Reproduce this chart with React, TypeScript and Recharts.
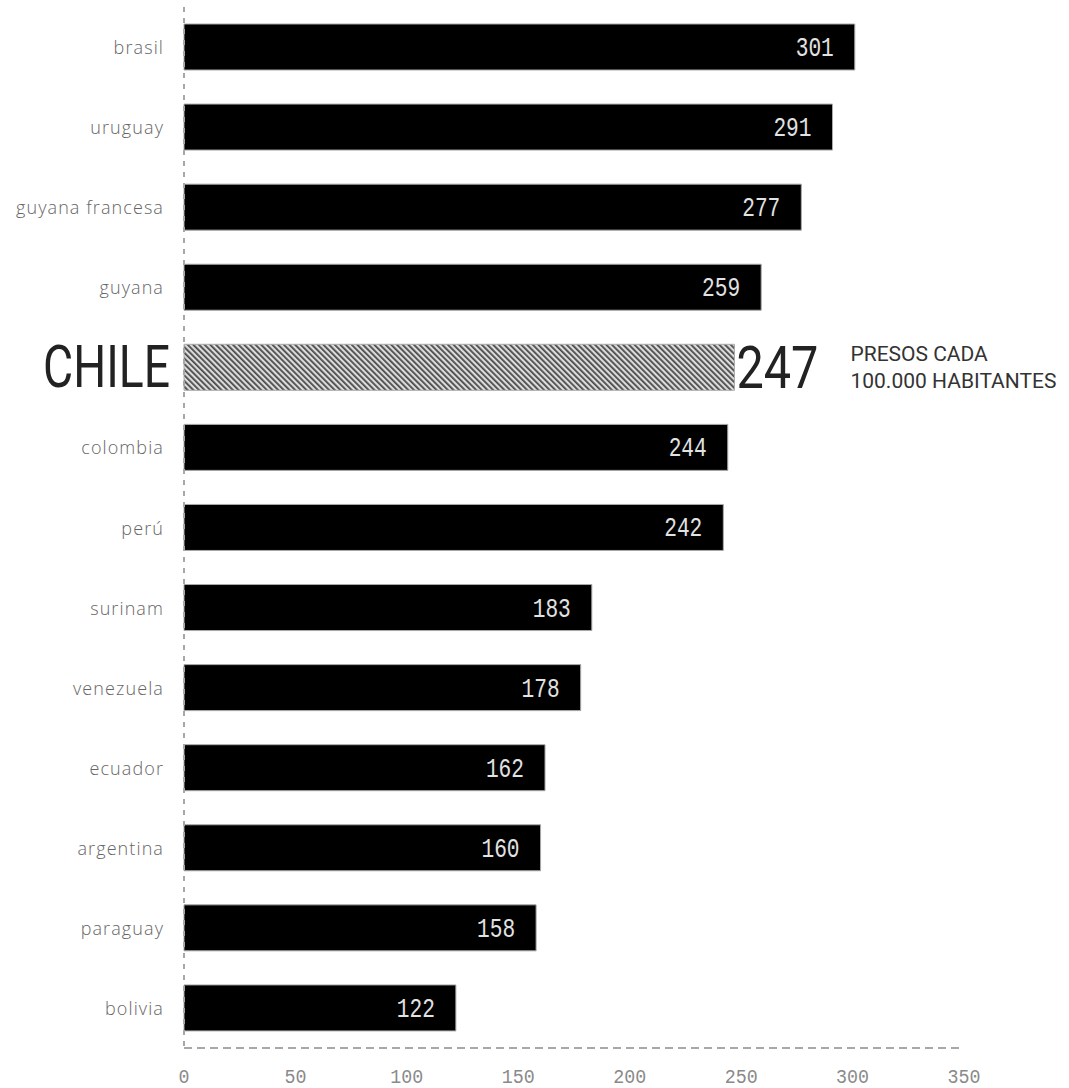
import React from "react";
import { Bar, BarChart, Cell, LabelList, XAxis, YAxis } from "recharts";

const countries = [
  "brasil",
  "uruguay",
  "guyana francesa",
  "guyana",
  "CHILE",
  "colombia",
  "perú",
  "surinam",
  "venezuela",
  "ecuador",
  "argentina",
  "paraguay",
  "bolivia",
];
const prisoners = [301, 291, 277, 259, 247, 244, 242, 183, 178, 162, 160, 158, 122];
const xTicks = [0, 50, 100, 150, 200, 250, 300, 350];
const highlight = "CHILE";
const unitLines = ["PRESOS CADA", "100.000 HABITANTES"];

const data = countries.map((name, i) => ({ name, value: prisoners[i] }));

const mono = "'Liberation Mono', 'DejaVu Sans Mono', monospace";

function CountryTick(props: any) {
  const { x, y, payload } = props;
  if (payload.value === highlight) {
    return (
      <text
        x={x + 7}
        y={y + 20}
        textAnchor="end"
        fontFamily="Roboto"
        fontSize={59}
        fill="#222"
        textLength={127}
        lengthAdjust="spacingAndGlyphs"
      >
        {payload.value}
      </text>
    );
  }
  return (
    <text
      x={x + 1}
      y={y}
      textAnchor="end"
      dominantBaseline="central"
      fontFamily="'Open Sans'"
      fontWeight={300}
      fontSize={18}
      letterSpacing={1.1}
      fill="#666"
    >
      {payload.value}
    </text>
  );
}

function NumberTick(props: any) {
  const { x, y, payload } = props;
  const s = String(payload.value);
  return (
    <text
      x={x}
      y={y + 13}
      textAnchor="middle"
      fontFamily={mono}
      fontSize={20}
      fill="#8a8a8a"
      textLength={s.length * 11}
      lengthAdjust="spacingAndGlyphs"
    >
      {s}
    </text>
  );
}

function ValueLabel(props: any) {
  const { x, y, width, height, value, index } = props;
  const cy = y + height / 2;
  const s = String(value);
  if (countries[index] === highlight) {
    return (
      <g>
        <text
          x={x + width + 2}
          y={cy + 21}
          fontFamily="Roboto"
          fontSize={60}
          fill="#222"
          textLength={82}
          lengthAdjust="spacingAndGlyphs"
        >
          {s}
        </text>
        <text x={x + width + 116} y={cy - 13} dominantBaseline="central" fontFamily="Roboto" fontSize={21} fill="#333">
          {unitLines[0]}
        </text>
        <text x={x + width + 116} y={cy + 14} dominantBaseline="central" fontFamily="Roboto" fontSize={21} fill="#333">
          {unitLines[1]}
        </text>
      </g>
    );
  }
  return (
    <text
      x={x + width - 21}
      y={cy + 9}
      textAnchor="end"
      fontFamily={mono}
      fontSize={27}
      fill="#e2e2e2"
      textLength={s.length * 12.7}
      lengthAdjust="spacingAndGlyphs"
    >
      {s}
    </text>
  );
}

export default function App() {
  return (
    <div style={{ position: "absolute", left: 0, top: 0 }}>
      <BarChart
        width={1069}
        height={1088}
        data={data}
        layout="vertical"
        margin={{ top: 7, right: 105, bottom: 0, left: 0 }}
      >
        <defs>
          <pattern id="hatch" width="4" height="4" patternUnits="userSpaceOnUse" patternTransform="rotate(-45)">
            <rect width="4" height="4" fill="#dcdcdc" />
            <rect width="1.8" height="4" fill="#4a4a4a" />
          </pattern>
        </defs>
        <XAxis
          type="number"
          domain={[0, 350]}
          ticks={xTicks}
          height={40}
          tickLine={false}
          tickMargin={16}
          axisLine={{ stroke: "#a8a8a8", strokeWidth: 2, strokeDasharray: "8 5" }}
          tick={<NumberTick />}
        />
        <YAxis
          type="category"
          dataKey="name"
          width={184}
          tickLine={false}
          tickMargin={15}
          axisLine={{ stroke: "#a8a8a8", strokeWidth: 2, strokeDasharray: "5 6" }}
          tick={<CountryTick />}
          interval={0}
        />
        <Bar dataKey="value" barSize={46} stroke="#aaa" strokeWidth={1} isAnimationActive={false}>
          {data.map((d) => (
            <Cell key={d.name} fill={d.name === highlight ? "url(#hatch)" : "#000"} />
          ))}
          <LabelList dataKey="value" content={<ValueLabel />} />
        </Bar>
      </BarChart>
    </div>
  );
}
